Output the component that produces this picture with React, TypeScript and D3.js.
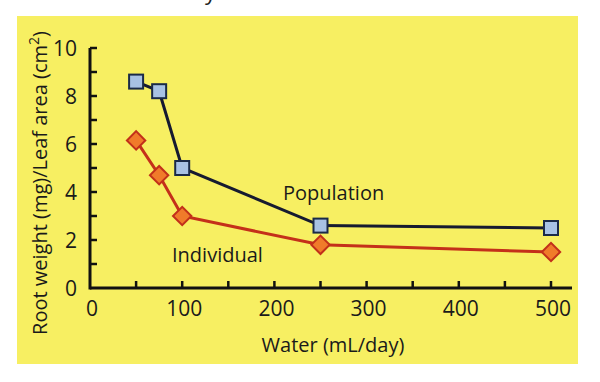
import React from "react";
import * as d3 from "d3";

const water = [50, 75, 100, 250, 500];
const population = [8.6, 8.2, 5.0, 2.6, 2.5];
const individual = [6.15, 4.7, 3.0, 1.8, 1.5];
const xTicks = [0, 100, 200, 300, 400, 500];
const xMinor = [50, 150, 250, 350, 450];
const yTicks = [0, 2, 4, 6, 8, 10];
const yMinor = [1, 3, 5, 7, 9];

export default function App() {
  const W = 600, H = 382;
  const x = d3.scaleLinear().domain([0, 500]).range([90, 551]);
  const y = d3.scaleLinear().domain([0, 10]).range([288, 48]);
  const line = d3.line<number>().x((_, i) => x(water[i])).y((d) => y(d));
  const font = "'Open Sans', 'Noto Sans', sans-serif";
  return (
    <svg width={W} height={H} style={{ position: "absolute", left: 0, top: 0, background: "#fff" }} fontFamily={font}>
      <rect x={17} y={16} width={561} height={348} fill="#f7ef62" />
      <text x={205} y={0} fontSize={22} fill="#222">y</text>
      {/* axes */}
      <line x1={x(0)} x2={572} y1={y(0)} y2={y(0)} stroke="#111" strokeWidth={3} />
      <line x1={x(0)} x2={x(0)} y1={y(0) + 1.5} y2={y(10)} stroke="#111" strokeWidth={3} />
      {[...xTicks, ...xMinor].filter((t) => t > 0).map((t) => (
        <line key={"xt" + t} x1={x(t)} x2={x(t)} y1={y(0)} y2={y(0) - 7} stroke="#111" strokeWidth={2.5} />
      ))}
      {[...yTicks, ...yMinor].filter((t) => t > 0).map((t) => (
        <line key={"yt" + t} x1={x(0)} x2={x(0) + 7} y1={y(t)} y2={y(t)} stroke="#111" strokeWidth={2.5} />
      ))}
      {xTicks.map((t) => (
        <text key={"xl" + t} x={x(t) + 2} y={316} fontSize={21} textAnchor="middle" fill="#1a1a1a">{t}</text>
      ))}
      {yTicks.map((t) => (
        <text key={"yl" + t} x={77} y={y(t) + 7.5} fontSize={21} textAnchor="end" fill="#1a1a1a">{t}</text>
      ))}
      <text x={333} y={352} fontSize={20} textAnchor="middle" fill="#1a1a1a">Water (mL/day)</text>
      <text transform="translate(47,183) rotate(-90)" fontSize={20} textAnchor="middle" fill="#1a1a1a">
        Root weight (mg)/Leaf area (cm<tspan dy={-8} fontSize={14}>2</tspan><tspan dy={8}>)</tspan>
      </text>
      {/* series */}
      <path d={line(population) || ""} fill="none" stroke="#161a30" strokeWidth={3} />
      <path d={line(individual) || ""} fill="none" stroke="#c4301a" strokeWidth={3} />
      {population.map((v, i) => (
        <rect key={"p" + i} x={x(water[i]) - 7} y={y(v) - 7} width={14} height={14} fill="#a8c2e4" stroke="#1a2a48" strokeWidth={2} />
      ))}
      {individual.map((v, i) => (
        <rect key={"d" + i} x={-6.5} y={-6.5} width={13} height={13} fill="#f07b2a" stroke="#c2301a" strokeWidth={2}
          transform={`translate(${x(water[i])},${y(v)}) rotate(45)`} />
      ))}
      <text x={283} y={200} fontSize={20} fill="#1a1a1a">Population</text>
      <text x={172} y={262} fontSize={20} fill="#1a1a1a">Individual</text>
    </svg>
  );
}
